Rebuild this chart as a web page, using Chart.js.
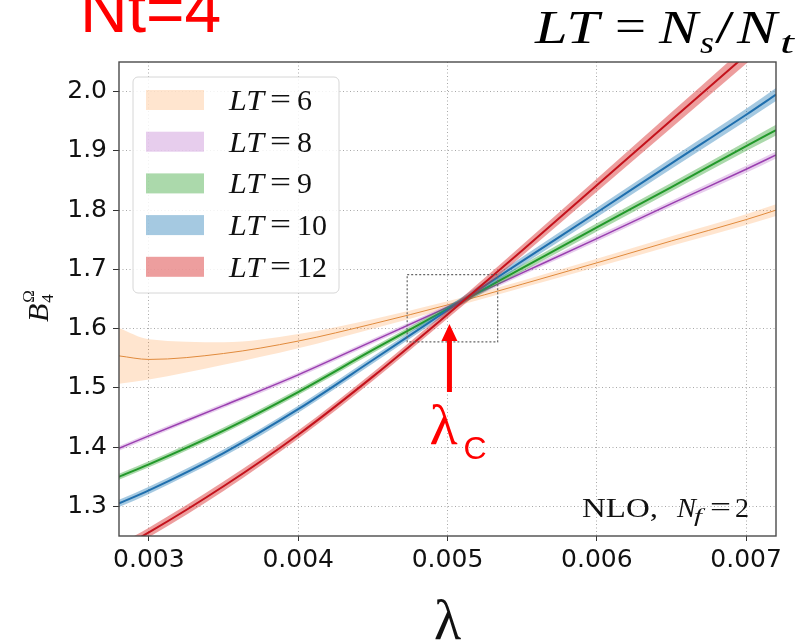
<!DOCTYPE html>
<html lang="en">
<head>
    <meta charset="UTF-8">
    <title>B4 crossing, Nt=4</title>
    <script src="https://cdn.jsdelivr.net/npm/chart.js"></script>
    <style>
        body { margin: 0; background: #fff; }
        canvas { display: block; }
    </style>
</head>
<body>
    <canvas id="b4Chart" width="807" height="643"></canvas>

    <script>
        // lambda grid and curves
        const lambda = [0.0028, 0.003, 0.0035, 0.004, 0.0045, 0.005, 0.0055, 0.006, 0.0065, 0.007, 0.0072];
        const lt6  = [1.554, 1.548, 1.558, 1.579, 1.608, 1.640, 1.675, 1.711, 1.748, 1.784, 1.800];
        const lt8  = [1.398, 1.419, 1.470, 1.522, 1.579, 1.636, 1.694, 1.752, 1.811, 1.869, 1.893];
        const lt9  = [1.350, 1.371, 1.428, 1.493, 1.564, 1.633, 1.702, 1.771, 1.839, 1.908, 1.935];
        const lt10 = [1.305, 1.327, 1.390, 1.464, 1.547, 1.631, 1.714, 1.796, 1.879, 1.961, 1.995];
        const lt12 = [1.228, 1.256, 1.334, 1.421, 1.519, 1.624, 1.732, 1.842, 1.952, 2.062, 2.106];
        // half widths of the error bands
        const err6  = [0.047, 0.034, 0.019, 0.012, 0.008, 0.006, 0.006, 0.007, 0.008, 0.009, 0.010];
        const err8  = [0.004, 0.004, 0.004, 0.004, 0.004, 0.004, 0.004, 0.005, 0.005, 0.006, 0.006];
        const err9  = [0.005, 0.005, 0.005, 0.005, 0.005, 0.005, 0.006, 0.007, 0.007, 0.008, 0.009];
        const err10 = [0.006, 0.006, 0.006, 0.006, 0.006, 0.006, 0.007, 0.008, 0.009, 0.010, 0.011];
        const err12 = [0.008, 0.008, 0.008, 0.007, 0.007, 0.007, 0.009, 0.011, 0.013, 0.015, 0.016];

        const ltNames = ['6', '8', '9', '10', '12'];
        const xTicks = [0.003, 0.004, 0.005, 0.006, 0.007];
        const yTicks = [1.3, 1.4, 1.5, 1.6, 1.7, 1.8, 1.9, 2.0];

        // zoom box and arrow around the crossing (data units)
        const zoomBox = { x0: 0.00473, x1: 0.005336, y0: 1.5775, y1: 1.691 };
        const lambdaC = { x: 0.005013, tip: 1.608, tail: 1.493 };

        const series = [
            { vals: lt6,  err: err6,  line: '#e08a3c', band: 'rgba(255,127,14,0.2)',  width: 1 },
            { vals: lt8,  err: err8,  line: '#9a3fb0', band: 'rgba(180,100,200,0.32)', width: 1.5 },
            { vals: lt9,  err: err9,  line: '#22992a', band: 'rgba(44,160,44,0.4)',   width: 2 },
            { vals: lt10, err: err10, line: '#1f6fae', band: 'rgba(31,119,180,0.4)',  width: 2 },
            { vals: lt12, err: err12, line: '#c4121c', band: 'rgba(214,39,40,0.45)',  width: 2 }
        ];

        const datasets = [];
        series.forEach((s, i) => {
            const base = (4 - i) * 10;
            const common = { pointRadius: 0, cubicInterpolationMode: 'monotone' };
            datasets.push(Object.assign({
                data: s.vals.map((v, k) => ({ x: lambda[k], y: v - s.err[k] })),
                borderWidth: 0, borderColor: 'rgba(0,0,0,0)', fill: false, order: base + 2
            }, common));
            datasets.push(Object.assign({
                data: s.vals.map((v, k) => ({ x: lambda[k], y: v + s.err[k] })),
                borderWidth: 0, borderColor: 'rgba(0,0,0,0)', fill: '-1',
                backgroundColor: s.band, order: base + 1
            }, common));
            datasets.push(Object.assign({
                data: s.vals.map((v, k) => ({ x: lambda[k], y: v })),
                borderWidth: s.width, borderColor: s.line, fill: false, order: base
            }, common));
        });

        const serif = '"Liberation Serif", "DejaVu Serif", serif';
        const sans = '"Liberation Sans", Arial, sans-serif';

        // text squeezed/stretched horizontally to a given width
        function fitText(ctx, t, font, x, y, w) {
            ctx.font = font;
            const sx = w / ctx.measureText(t).width;
            ctx.save();
            ctx.translate(x, y);
            ctx.scale(sx, 1);
            ctx.fillText(t, 0, 0);
            ctx.restore();
        }

        // pieces: [text, font, x offset, width, y offset]
        function drawPieces(ctx, x, y, pieces) {
            pieces.forEach(p => fitText(ctx, p[0], p[1], x + p[2], y + (p[4] || 0), p[3]));
        }

        const decorations = {
            id: 'decorations',
            afterDraw(chart) {
                const ctx = chart.ctx;
                const a = chart.chartArea;
                const xs = chart.scales.x, ys = chart.scales.y;
                ctx.save();

                // frame
                ctx.strokeStyle = '#4a4a4a';
                ctx.lineWidth = 1.4;
                ctx.strokeRect(a.left, a.top, a.right - a.left, a.bottom - a.top);

                // dotted zoom box
                ctx.setLineDash([2, 2]);
                ctx.strokeStyle = '#666';
                ctx.lineWidth = 1.2;
                const bx0 = xs.getPixelForValue(zoomBox.x0), bx1 = xs.getPixelForValue(zoomBox.x1);
                const by0 = ys.getPixelForValue(zoomBox.y1), by1 = ys.getPixelForValue(zoomBox.y0);
                ctx.strokeRect(bx0, by0, bx1 - bx0, by1 - by0);
                ctx.setLineDash([]);

                // legend
                const lx = a.left + 14, ly = a.top + 15;
                ctx.beginPath();
                ctx.roundRect(lx, ly, 206, 216, 5);
                ctx.fillStyle = 'rgba(255,255,255,0.85)';
                ctx.fill();
                ctx.strokeStyle = '#d6d6d6';
                ctx.lineWidth = 1;
                ctx.stroke();
                ctx.textBaseline = 'alphabetic';
                series.forEach((s, k) => {
                    const cy = ly + 23 + k * 41.7;
                    ctx.fillStyle = s.band;
                    ctx.fillRect(lx + 13, cy - 10, 58, 20);
                    ctx.fillStyle = '#111';
                    const digitsW = ltNames[k].length * 15;
                    drawPieces(ctx, lx + 96, cy + 10, [
                        ['LT', 'italic 29px ' + serif, 0, 35],
                        ['=', '29px ' + serif, 41, 21, -1],
                        [ltNames[k], '29px ' + serif, 68, digitsW]
                    ]);
                });

                // NLO note
                ctx.fillStyle = '#111';
                drawPieces(ctx, 582, 517, [
                    ['NLO,', '27px ' + serif, 0, 76],
                    ['N', 'italic 27px ' + serif, 95, 19],
                    ['f', 'italic 18px ' + serif, 112, 8, 5],
                    ['=', '27px ' + serif, 128, 21, -1],
                    ['2', '27px ' + serif, 153, 14]
                ]);

                // y axis label
                ctx.save();
                ctx.translate(48, 322);
                ctx.rotate(-Math.PI / 2);
                ctx.font = 'italic 30px ' + serif;
                ctx.fillText('B', 0, 0);
                const bw = ctx.measureText('B').width;
                ctx.font = '17px ' + serif;
                ctx.fillText('\u03A9', bw + 1, -14);
                ctx.fillText('4', bw + 1, 5);
                ctx.restore();

                // x axis label
                ctx.textAlign = 'center';
                ctx.font = '56px ' + serif;
                ctx.fillText('\u03BB', (a.left + a.right) / 2, 639);
                ctx.textAlign = 'left';

                // titles
                ctx.fillStyle = '#ff0000';
                ctx.font = '66px ' + sans;
                ctx.fillText('Nt=4', 80, 32);

                ctx.fillStyle = '#000';
                drawPieces(ctx, 535, 43, [
                    ['LT', 'italic 47px ' + serif, 0, 64],
                    ['=', '46px ' + serif, 80, 31, -2],
                    ['N', 'italic 47px ' + serif, 124, 39],
                    ['s', 'italic 32px ' + serif, 165, 14, 10],
                    ['/', '46px ' + serif, 180, 19],
                    ['N', 'italic 47px ' + serif, 202, 40],
                    ['t', 'italic 32px ' + serif, 245, 14, 10]
                ]);

                // lambda_c arrow
                const ax = xs.getPixelForValue(lambdaC.x);
                const tipY = ys.getPixelForValue(lambdaC.tip);
                const tailY = ys.getPixelForValue(lambdaC.tail);
                ctx.strokeStyle = '#ff0000';
                ctx.fillStyle = '#ff0000';
                ctx.lineWidth = 5;
                ctx.beginPath();
                ctx.moveTo(ax, tailY);
                ctx.lineTo(ax, tipY + 14);
                ctx.stroke();
                ctx.beginPath();
                ctx.moveTo(ax - 8, tipY + 17);
                ctx.lineTo(ax + 8, tipY + 17);
                ctx.lineTo(ax, tipY);
                ctx.closePath();
                ctx.fill();
                ctx.font = '58px ' + serif;
                ctx.fillText('\u03BB', ax - 20, tailY + 52);
                ctx.font = '32px ' + sans;
                ctx.fillText('C', ax + 14, tailY + 67);

                ctx.restore();
            }
        };

        const tickFont = { family: '"DejaVu Sans", sans-serif', size: 25 };

        const ctx = document.getElementById('b4Chart').getContext('2d');
        const b4Chart = new Chart(ctx, {
            type: 'line',
            data: { datasets: datasets },
            options: {
                responsive: false,
                animation: false,
                layout: { padding: { top: 62, right: 31, left: 0, bottom: 0 } },
                plugins: { legend: { display: false }, tooltip: { enabled: false } },
                scales: {
                    x: {
                        type: 'linear',
                        min: 0.0028,
                        max: 0.0072,
                        afterBuildTicks: s => { s.ticks = xTicks.map(v => ({ value: v })); },
                        afterFit: s => { s.height = 107; },
                        ticks: {
                            autoSkip: false, maxRotation: 0, padding: 4,
                            font: tickFont, color: '#111',
                            callback: v => v.toFixed(3)
                        },
                        grid: {
                            color: '#a8a8a8', lineWidth: 1,
                            tickLength: 5, tickColor: '#333', tickWidth: 1
                        },
                        border: { display: false, dash: [1, 2.5] }
                    },
                    y: {
                        min: 1.25,
                        max: 2.05,
                        afterBuildTicks: s => { s.ticks = yTicks.map(v => ({ value: v })); },
                        afterFit: s => { s.width = 119; },
                        ticks: {
                            autoSkip: false, padding: 6,
                            font: tickFont, color: '#111',
                            callback: v => v.toFixed(1)
                        },
                        grid: {
                            color: '#a8a8a8', lineWidth: 1,
                            tickLength: 6, tickColor: '#333', tickWidth: 1
                        },
                        border: { display: false, dash: [1, 2.5] }
                    }
                }
            },
            plugins: [decorations]
        });
    </script>
</body>
</html>
